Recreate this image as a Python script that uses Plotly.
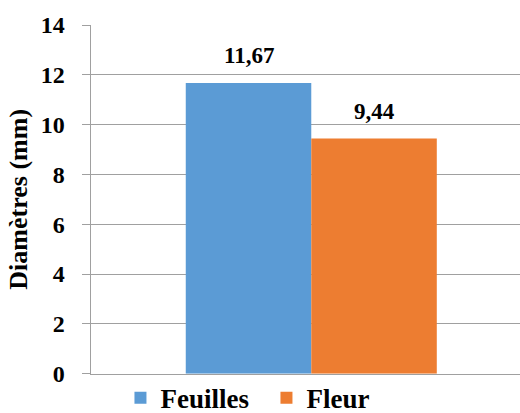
import plotly.graph_objects as go

categories = ["Feuilles", "Fleur"]
values = [11.67, 9.44]
colors = ["#5B9BD5", "#ED7D31"]
y_ticks = [0, 2, 4, 6, 8, 10, 12, 14]

FONT = "Liberation Serif"
BOLD = dict(family=FONT, color="black", weight="bold")

fig = go.Figure()
for i, (name, v, c) in enumerate(zip(categories, values, colors)):
    fig.add_trace(go.Bar(
        x=[i], y=[v], name=name, width=1.0,
        marker=dict(color=c, line=dict(width=0)),
    ))
    fig.add_annotation(
        x=i, y=v, xref="x", yref="y", text=f"{v:.2f}".replace(".", ","),
        showarrow=False, yanchor="bottom", yshift=13,
        font=dict(**BOLD, size=23),
    )

fig.update_layout(
    width=520, height=413,
    margin=dict(l=91, r=0, t=25, b=36),
    barmode="overlay",
    plot_bgcolor="white", paper_bgcolor="white",
    font=dict(**BOLD, size=22),
    showlegend=True,
    legend=dict(orientation="h", xref="paper", x=0.409, xanchor="center",
                yref="container", y=0.036, yanchor="middle",
                font=dict(**BOLD, size=27),
                itemwidth=30, tracegroupgap=0, bgcolor="rgba(0,0,0,0)",
                entrywidth=101, entrywidthmode="pixels"),
    xaxis=dict(range=[-1.255, 2.163], showticklabels=False, showgrid=False,
               showline=True, linecolor="#A0A0A0", linewidth=1.5, zeroline=False,
               automargin=False, fixedrange=True),
    yaxis=dict(range=[0, 14], tickvals=y_ticks, showgrid=True, gridcolor="#A0A0A0",
               gridwidth=1, showline=True, linecolor="#A0A0A0", linewidth=1.5,
               ticks="outside", ticklen=8, tickcolor="#A0A0A0", zeroline=False,
               tickfont=dict(**BOLD, size=24),
               ticklabelstandoff=12, automargin=False, fixedrange=True,
               title=dict(text="Diamètres (mm)", standoff=5,
                          font=dict(**BOLD, size=26))),
)

fig.write_html(
    "out.html",
    config={"displayModeBar": False, "staticPlot": True},
    post_script="document.body.style.margin='0';document.body.style.overflow='hidden';",
)
